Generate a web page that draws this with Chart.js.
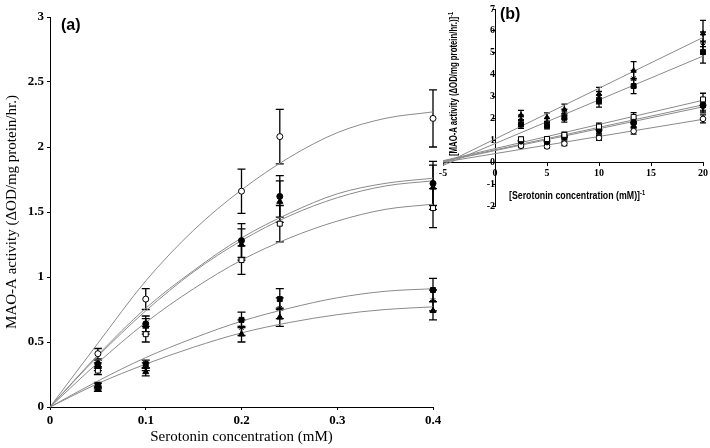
<!DOCTYPE html>
<html>
<head>
<meta charset="utf-8">
<script src="https://cdn.jsdelivr.net/npm/chart.js@4.4.0/dist/chart.umd.min.js"></script>
<style>
  body { margin: 0; background: #fff; }
  #wrap { position: relative; width: 710px; height: 448px; overflow: hidden; background: #fff; }
  #main { position: absolute; left: 0; top: 0; }
  #inset { position: absolute; left: 420px; top: 0; }
  .lab { position: absolute; font: bold 16px "Liberation Sans", Arial, sans-serif; color: #000; }
  .tb { position: absolute; white-space: nowrap; font-weight: bold; font-family: "Liberation Sans", Arial, sans-serif; color: #000; }
  .tb sup { font-size: 7px; }
  #ytB { left: 453px; top: 84px; font-size: 10px; transform: translate(-50%, -50%) rotate(-90deg) scaleX(0.78); }
  #xtB { left: 577px; top: 195px; font-size: 11px; transform: translate(-50%, -50%) scaleX(0.8); }
</style>
</head>
<body>
<div id="wrap">
  <canvas id="main" width="710" height="448"></canvas>
  <canvas id="inset" width="290" height="215"></canvas>
  <div class="lab" style="left:61px;top:16px">(a)</div>
  <div class="lab" style="left:500px;top:5px">(b)</div>
  <div class="tb" id="ytB">[MAO-A activity (ΔOD/mg protein/hr.)]<sup>-1</sup></div>
  <div class="tb" id="xtB">[Serotonin concentration (mM)]<sup>-1</sup></div>
</div>
<script>
// ---- panel (a): activity vs serotonin concentration ----
const conc = [0.05, 0.1, 0.2, 0.24, 0.4];
const openCircle   = [0.41, 0.83, 1.66, 2.08, 2.22];
const openCircleErr = [0.04, 0.08, 0.17, 0.21, 0.22];
const fillCircle   = [0.33, 0.64, 1.28, 1.62, 1.72];
const fillCircleErr = [0.03, 0.06, 0.13, 0.16, 0.17];
const triHigh      = [0.31, 0.62, 1.25, 1.58, 1.69];
const triHighErr   = [0.03, 0.06, 0.12, 0.16, 0.17];
const openSquare   = [0.28, 0.56, 1.13, 1.41, 1.53];
const openSquareErr = [0.03, 0.06, 0.11, 0.14, 0.15];
const fillSquare   = [0.17, 0.33, 0.67, 0.83, 0.90];
const fillSquareErr = [0.02, 0.03, 0.06, 0.08, 0.09];
const starLow      = [0.16, 0.31, 0.61, 0.76, 0.82];
const starLowErr   = [0.02, 0.03, 0.06, 0.08, 0.08];
const triLow       = [0.14, 0.27, 0.56, 0.69, 0.74];
const triLowErr    = [0.02, 0.03, 0.06, 0.07, 0.07];

// trend curves
const curveX = [0, 0.05, 0.1, 0.15, 0.2, 0.25, 0.3, 0.35, 0.4];
const curveOpenCircle = [0, 0.49, 0.97, 1.36, 1.67, 1.92, 2.11, 2.22, 2.27];
const curveFillCircle = [0, 0.40, 0.76, 1.05, 1.30, 1.49, 1.64, 1.72, 1.76];
const curveTriHigh    = [0, 0.39, 0.74, 1.04, 1.28, 1.47, 1.61, 1.70, 1.74];
const curveOpenSquare = [0, 0.34, 0.65, 0.91, 1.13, 1.30, 1.43, 1.52, 1.56];
const curveFillSquare = [0, 0.20, 0.38, 0.53, 0.66, 0.76, 0.84, 0.89, 0.91];
const curveTriLow     = [0, 0.18, 0.33, 0.46, 0.57, 0.65, 0.71, 0.75, 0.77];

// ---- panel (b): double reciprocal ----
const invConc = [2.5, 5, 6.67, 10, 13.33, 20];
const invTri       = [2.15, 2.05, 2.40, 3.12, 4.18, 5.88];
const invTriErr    = [0.22, 0.20, 0.25, 0.30, 0.42, 0.60];
const invStarHigh  = [1.95, 1.82, 2.20, 2.95, 3.82, 5.45];
const invStarHighErr = [0.20, 0.18, 0.22, 0.28, 0.38, 0.50];
const invSquare    = [1.72, 1.67, 2.03, 2.80, 3.48, 5.03];
const invSquareErr = [0.17, 0.15, 0.20, 0.28, 0.35, 0.50];
const invOpenSquare = [1.05, 1.06, 1.25, 1.63, 2.07, 2.87];
const invOpenSquareErr = [0.10, 0.10, 0.12, 0.16, 0.20, 0.28];
const invFillCircle = [0.98, 0.95, 1.17, 1.47, 1.80, 2.60];
const invFillCircleErr = [0.10, 0.09, 0.11, 0.14, 0.18, 0.26];
const invStarLow   = [0.93, 0.90, 1.12, 1.42, 1.75, 2.50];
const invStarLowErr = [0.09, 0.09, 0.11, 0.14, 0.17, 0.25];
const invOpenCircle = [0.75, 0.72, 0.85, 1.11, 1.42, 1.98];
const invOpenCircleErr = [0.08, 0.08, 0.09, 0.11, 0.14, 0.18];

const fitX = [-5, 20];
const fitTri = [-0.10, 5.70];
const fitSquare = [-0.15, 4.85];
const fitOpenSquare = [0.07, 2.83];
const fitFillCircle = [0.05, 2.62];
const fitStarLow = [0.03, 2.53];
const fitOpenCircle = [0.00, 1.96];

function pts(xs, ys) {
  return xs.map((x, i) => ({ x: x, y: ys[i] }));
}

const errorBars = {
  id: 'errorBars',
  beforeDatasetsDraw(chart) {
    const ctx = chart.ctx;
    const ys = chart.scales.y;
    chart.data.datasets.forEach((ds, i) => {
      if (!ds.errors) return;
      const meta = chart.getDatasetMeta(i);
      ctx.save();
      ctx.strokeStyle = '#000';
      ctx.lineWidth = ds.errWidth || 1.3;
      meta.data.forEach((p, j) => {
        const v = ds.data[j].y, e = ds.errors[j];
        const t = ys.getPixelForValue(v + e), b = ys.getPixelForValue(v - e);
        const c = ds.cap || 3;
        ctx.beginPath();
        ctx.moveTo(p.x, t); ctx.lineTo(p.x, b);
        ctx.moveTo(p.x - c, t); ctx.lineTo(p.x + c, t);
        ctx.moveTo(p.x - c, b); ctx.lineTo(p.x + c, b);
        ctx.stroke();
      });
      ctx.restore();
    });
  }
};

function marks(xs, ys, errs, style, filled, r, cap) {
  return {
    data: pts(xs, ys), errors: errs, cap: cap,
    showLine: false, clip: false,
    pointStyle: style, pointRadius: r,
    pointBackgroundColor: filled ? '#000' : '#fff',
    pointBorderColor: '#000', pointBorderWidth: 1
  };
}
function curve(xs, ys) {
  return {
    data: pts(xs, ys), showLine: true, pointRadius: 0, clip: false,
    borderColor: '#8a8a8a', borderWidth: 1, cubicInterpolationMode: 'monotone'
  };
}

const serifBold = { family: 'Liberation Serif', size: 13, weight: 'bold' };
const plainNum = v => String(Number(v.toFixed(2)));

new Chart(document.getElementById('main'), {
  type: 'scatter',
  data: {
    datasets: [
      marks(conc, openCircle, openCircleErr, 'circle', false, 3, 4),
      marks(conc, fillCircle, fillCircleErr, 'circle', true, 3, 4),
      marks(conc, triHigh, triHighErr, 'triangle', true, 3.5, 4),
      marks(conc, openSquare, openSquareErr, 'rect', false, 3.5, 4),
      marks(conc, fillSquare, fillSquareErr, 'rect', true, 3.5, 4),
      marks(conc, starLow, starLowErr, 'star', false, 3, 4),
      marks(conc, triLow, triLowErr, 'triangle', true, 3.5, 4),
      curve(curveX, curveOpenCircle),
      curve(curveX, curveFillCircle),
      curve(curveX, curveTriHigh),
      curve(curveX, curveOpenSquare),
      curve(curveX, curveFillSquare),
      curve(curveX, curveTriLow)
    ]
  },
  options: {
    responsive: false,
    animation: false,
    layout: { padding: { left: 0, top: 17, right: 277, bottom: 0 } },
    plugins: { legend: { display: false }, tooltip: { enabled: false } },
    scales: {
      x: {
        type: 'linear', min: 0, max: 0.4,
        ticks: { stepSize: 0.1, font: serifBold, color: '#000', padding: 3, callback: plainNum },
        grid: { drawOnChartArea: false, color: '#000', tickLength: 3 },
        border: { color: '#000', width: 1 },
        title: { display: true, text: 'Serotonin concentration (mM)', color: '#000',
                 font: { family: 'Liberation Serif', size: 15 }, padding: { top: 0, bottom: 2 } },
        afterFit(s) { s.height = 41; }
      },
      y: {
        min: 0, max: 3,
        ticks: { stepSize: 0.5, font: serifBold, color: '#000', padding: 3, callback: plainNum },
        grid: { drawOnChartArea: false, color: '#000', tickLength: 3 },
        border: { color: '#000', width: 1 },
        title: { display: true, text: 'MAO-A activity (ΔOD/mg protein/hr.)', color: '#000',
                 font: { family: 'Liberation Serif', size: 15 }, padding: { top: 3, bottom: 0 } },
        afterFit(s) { s.width = 50; }
      }
    }
  },
  plugins: [errorBars]
});

const insetFont = { family: 'Liberation Serif', size: 10, weight: 'bold' };

new Chart(document.getElementById('inset'), {
  type: 'scatter',
  data: {
    datasets: [
      marks(invConc, invTri, invTriErr, 'triangle', true, 3, 3),
      marks(invConc, invStarHigh, invStarHighErr, 'star', false, 3, 3),
      marks(invConc, invSquare, invSquareErr, 'rect', true, 3.5, 3),
      marks(invConc, invOpenSquare, invOpenSquareErr, 'rect', false, 3.5, 3),
      marks(invConc, invFillCircle, invFillCircleErr, 'circle', true, 3, 3),
      marks(invConc, invStarLow, invStarLowErr, 'star', false, 3, 3),
      marks(invConc, invOpenCircle, invOpenCircleErr, 'circle', false, 2.8, 3),
      curve(fitX, fitTri),
      curve(fitX, fitSquare),
      curve(fitX, fitOpenSquare),
      curve(fitX, fitFillCircle),
      curve(fitX, fitStarLow),
      curve(fitX, fitOpenCircle)
    ]
  },
  options: {
    responsive: false,
    animation: false,
    layout: { padding: { left: 23, top: 6, right: 6, bottom: 6 } },
    plugins: { legend: { display: false }, tooltip: { enabled: false } },
    scales: {
      x: {
        type: 'linear', min: -5, max: 20, position: { y: 0 },
        ticks: { stepSize: 5, font: insetFont, color: '#000', padding: 2 },
        grid: { drawOnChartArea: false, color: '#000', tickLength: 3 },
        border: { color: '#000', width: 1 }
      },
      y: {
        min: -2, max: 7, position: { x: 0 },
        ticks: { stepSize: 1, font: insetFont, color: '#000', padding: 3 },
        grid: { drawOnChartArea: false, color: '#000', tickLength: 3 },
        border: { color: '#000', width: 1 }
      }
    }
  },
  plugins: [errorBars]
});
</script>
</body>
</html>
